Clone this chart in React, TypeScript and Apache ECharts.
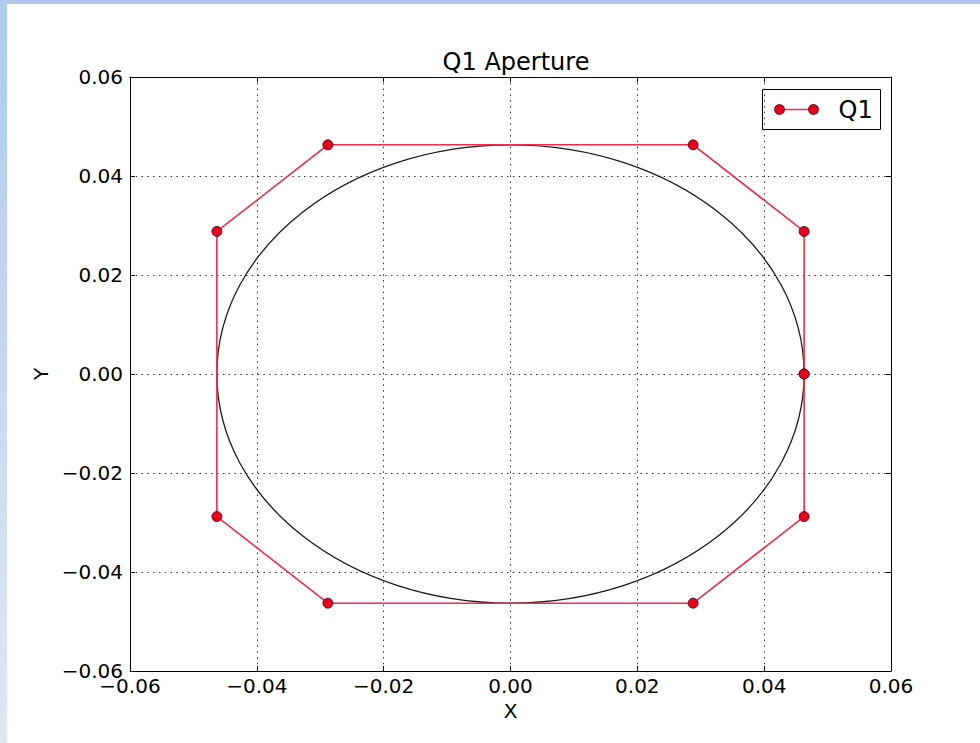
import React, { useEffect, useRef } from "react";
import * as echarts from "echarts";

const chartTitle = "Q1 Aperture";
const seriesName = "Q1";
const xAxisName = "X";
const yAxisName = "Y";
const axisMin = -0.06;
const axisMax = 0.06;
const axisStep = 0.02;

// aperture polygon vertices (x, y)
const apertureX = [0.0463, 0.0463, 0.0288, -0.0288, -0.0463, -0.0463, -0.0288, 0.0288, 0.0463, 0.0463];
const apertureY = [0.0, 0.0288, 0.0463, 0.0463, 0.0288, -0.0288, -0.0463, -0.0463, -0.0288, 0.0];

// ellipse: center x, center y, radius x, radius y
const ellipseCenter = [0.0, 0.0];
const ellipseRadius = [0.0463, 0.0463];

const FONT = "DejaVu Sans";
const RED_LINE = "#f22a4c";
const RED_MARK = "#e8001f";

const fmt = (v: number) => (Math.abs(v) < 1e-9 ? 0 : v).toFixed(2).replace("-", "\u2212");

export default function App() {
  const ref = useRef<HTMLDivElement>(null);

  useEffect(() => {
    if (!ref.current) return;
    const chart = echarts.init(ref.current, null, { renderer: "svg" });

    const linePoints = apertureX.map((x, i) => [x, apertureY[i]]);

    const gridLine = {
      show: true,
      lineStyle: { color: "#333", width: 1, type: [1.5, 4.3] as any },
    };
    const baseAxis = {
      type: "value" as const,
      min: axisMin,
      max: axisMax,
      interval: axisStep,
      axisLine: { show: true, onZero: false, lineStyle: { color: "#000", width: 1 } },
      axisTick: { show: true, inside: true, length: 5, lineStyle: { color: "#000", width: 1 } },
    };

    chart.setOption({
      animation: false,
      title: {
        text: chartTitle,
        left: 511,
        top: 45,
        textAlign: "center",
        textStyle: { fontFamily: FONT, fontSize: 24, fontWeight: "normal", color: "#000" },
      },
      grid: { left: 130, right: 89, top: 77, bottom: 72, containLabel: false },
      xAxis: [
        {
          ...baseAxis,
          position: "bottom",
          name: xAxisName,
          nameLocation: "middle",
          nameGap: 26,
          nameTextStyle: { fontFamily: FONT, fontSize: 20, color: "#000" },
          axisLabel: { margin: 5, fontFamily: FONT, fontSize: 20, color: "#000", formatter: fmt },
          splitLine: gridLine,
        },
        {
          ...baseAxis,
          position: "top",
          axisLabel: { show: false },
          splitLine: { show: false },
        },
      ],
      yAxis: [
        {
          ...baseAxis,
          position: "left",
          name: yAxisName,
          nameLocation: "middle",
          nameGap: 75,
          nameRotate: 90,
          nameTextStyle: { fontFamily: FONT, fontSize: 20, color: "#000" },
          axisLabel: { margin: 7, fontFamily: FONT, fontSize: 20, color: "#000", formatter: fmt },
          splitLine: gridLine,
        },
        {
          ...baseAxis,
          position: "right",
          axisLabel: { show: false },
          splitLine: { show: false },
        },
      ],
      series: [
        {
          type: "custom",
          xAxisIndex: 0,
          yAxisIndex: 0,
          silent: true,
          data: [[ellipseCenter[0], ellipseCenter[1], ellipseRadius[0], ellipseRadius[1]]],
          renderItem: (params: any, api: any) => {
            const c = api.coord([api.value(0), api.value(1)]);
            const s = api.size([api.value(2), api.value(3)]);
            return {
              type: "ellipse",
              shape: { cx: c[0], cy: c[1], rx: s[0], ry: s[1] },
              style: { fill: "none", stroke: "#1a1a1a", lineWidth: 1.3 },
            };
          },
        },
        {
          name: seriesName,
          type: "line",
          xAxisIndex: 0,
          yAxisIndex: 0,
          data: linePoints,
          symbol: "circle",
          symbolSize: 10,
          lineStyle: { color: RED_LINE, width: 1.6 },
          itemStyle: { color: RED_MARK, borderColor: "#4a0008", borderWidth: 0.8 },
          z: 3,
        },
      ],
      graphic: [
        {
          type: "group",
          left: 762,
          top: 89,
          children: [
            { type: "rect", shape: { x: 0, y: 0, width: 118, height: 40 }, style: { fill: "#fff", stroke: "#000", lineWidth: 1 } },
            { type: "line", shape: { x1: 17, y1: 20, x2: 51, y2: 20 }, style: { stroke: RED_LINE, lineWidth: 1.6 } },
            { type: "circle", shape: { cx: 17, cy: 20, r: 5 }, style: { fill: RED_MARK, stroke: "#4a0008", lineWidth: 0.8 } },
            { type: "circle", shape: { cx: 51, cy: 20, r: 5 }, style: { fill: RED_MARK, stroke: "#4a0008", lineWidth: 0.8 } },
            {
              type: "text",
              x: 76,
              y: 20,
              style: { text: seriesName, fontFamily: FONT, fontSize: 24, fill: "#000", align: "left", verticalAlign: "middle" },
            },
          ],
        },
      ],
    });

    return () => chart.dispose();
  }, []);

  return (
    <div style={{ position: "fixed", left: 0, top: 0, width: 980, height: 743, overflow: "hidden" }}>
      <div style={{ position: "absolute", left: 0, top: 0, width: 7, height: 743, background: "linear-gradient(#aecaed, #dfe7f4)" }} />
      <div style={{ position: "absolute", left: 0, top: 0, width: 980, height: 4, background: "#afcaed" }} />
      <div style={{ position: "absolute", left: 7, top: 4, width: 973, height: 739, background: "#fff" }} />
      <div ref={ref} style={{ position: "absolute", left: 0, top: 0, width: 980, height: 743 }} />
    </div>
  );
}
